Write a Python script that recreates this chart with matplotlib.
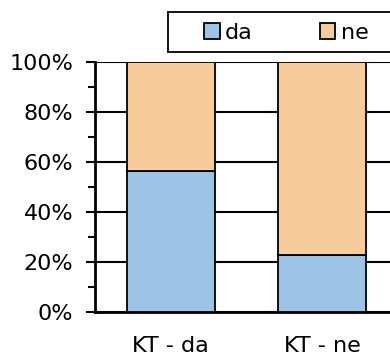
import numpy as np
import matplotlib.pyplot as plt
from matplotlib.patches import Patch, Rectangle
from matplotlib.ticker import MultipleLocator, PercentFormatter

# share of answers per group
groups = ['KT - da', 'KT - ne']
da = [0.564, 0.23]
ne = [1 - v for v in da]

blue = '#9DC3E6'
orange = '#F8CB9A'

W, H = 390, 358
fig = plt.figure(figsize=(W / 100, H / 100), dpi=100)
# axes runs past the right edge on purpose
ax = fig.add_axes([95 / W, (H - 312.3) / H, 303 / W, 250.3 / H])

x = np.arange(len(groups))
ax.bar(x, da, width=0.58, color=blue, edgecolor='black', linewidth=1.3, zorder=3)
ax.bar(x, ne, width=0.58, bottom=da, color=orange, edgecolor='black', linewidth=1.3, zorder=3)

ax.set_xlim(-0.5, 1.5)
ax.set_ylim(0, 1)
ax.yaxis.set_major_locator(MultipleLocator(0.2))
ax.yaxis.set_minor_locator(MultipleLocator(0.1))
ax.yaxis.set_major_formatter(PercentFormatter(1.0, decimals=0))
ax.set_xticks(x)
ax.set_xticklabels(groups)
ax.grid(axis='y', which='major', color='black', linewidth=1.5, zorder=1)
ax.set_axisbelow(True)

for s in ['top', 'right']:
    ax.spines[s].set_visible(False)
for s in ['left', 'bottom']:
    ax.spines[s].set_linewidth(2)

ax.tick_params(axis='y', which='major', direction='out', length=6.5, width=1.5,
               labelsize=16, pad=9)
ax.tick_params(axis='y', which='minor', direction='out', length=5, width=1.5)
ax.tick_params(axis='x', length=0, labelsize=16, pad=17)

# legend box, also running off the right edge
fig.add_artist(Rectangle((168 / W, (H - 52) / H), 240 / W, 40 / H,
                         transform=fig.transFigure, facecolor='white',
                         edgecolor='black', linewidth=1.3, zorder=5))
handles = [Patch(facecolor=blue, edgecolor='black', linewidth=1.3, label='da'),
           Patch(facecolor=orange, edgecolor='black', linewidth=1.3, label='ne')]
leg = fig.legend(handles=handles, loc='center left', ncol=2,
                 bbox_to_anchor=(204 / W, (H - 33) / H),
                 fontsize=16, handlelength=0.7, handleheight=0.7, handletextpad=0.25,
                 columnspacing=3.0, borderaxespad=0, borderpad=0, frameon=False)
leg.set_zorder(6)

fig.savefig('out.png', dpi=100)
